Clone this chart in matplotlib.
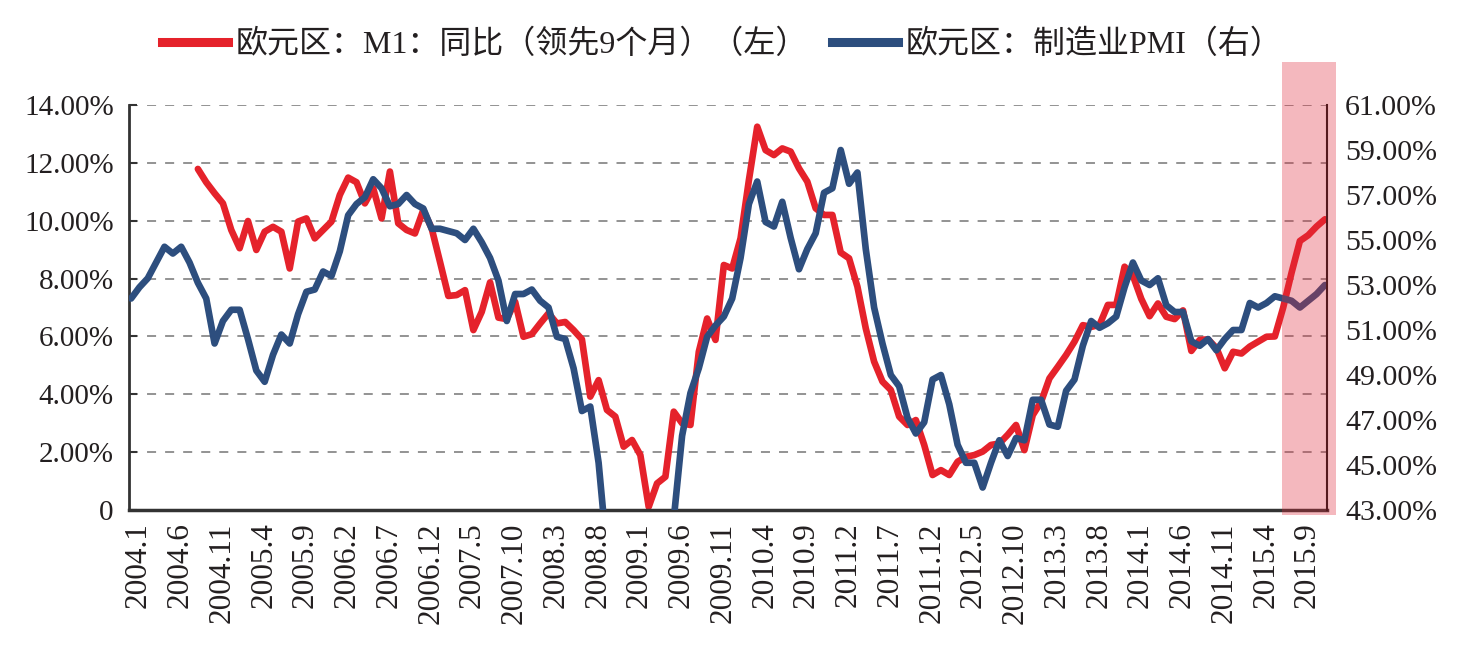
# 欧元区 M1 同比（领先9个月） vs 制造业PMI
import matplotlib
matplotlib.use('Agg')
import matplotlib.pyplot as plt
import matplotlib.transforms as mtransforms
from matplotlib.lines import Line2D
from matplotlib.patches import Rectangle
import numpy as np

plt.rcParams['font.family'] = ['Liberation Serif', 'Noto Sans CJK SC']

# monthly categories 2004.1 .. 2015.12
years = list(range(2004, 2016))
months = [f'{y}.{m}' for y in years for m in range(1, 13)]

# Euro area M1 yoy, led 9 months (left axis, %); starts 2004.9
m1_start = '2004.9'
m1_yoy = [
    11.79, 11.33, 10.95, 10.6, 9.68, 9.05, 9.99, 8.99, 9.62, 9.79,
    9.62, 8.35, 9.97, 10.08, 9.39, 9.68, 9.97, 10.89, 11.49, 11.33,
    10.6, 11.12, 10.08, 11.7, 9.91, 9.68, 9.56, 10.37, 9.74, 8.58,
    7.4, 7.43, 7.6, 6.22, 6.85, 7.87, 6.65, 6.6, 7.2, 5.99,
    6.08, 6.45, 6.8, 6.45, 6.5, 6.22, 5.9, 3.92, 4.49, 3.46,
    3.23, 2.19, 2.42, 1.9, 0.11, 0.92, 1.15, 3.4, 3.0, 2.94,
    5.47, 6.62, 5.88, 8.47, 8.35, 9.39, 11.4, 13.25, 12.44, 12.27,
    12.5, 12.39, 11.81, 11.35, 10.43, 10.2, 10.2, 8.9,
    8.7, 7.72, 6.28, 5.13, 4.44, 4.15, 3.23, 2.94, 3.11, 2.25,
    1.21, 1.38, 1.21, 1.67, 1.84, 1.9, 2.02, 2.25, 2.3, 2.6,
    2.94, 2.07, 3.28, 3.74, 4.55, 4.95, 5.36, 5.82,
    6.39, 6.33, 6.4, 7.09, 7.09, 8.41, 8.1, 7.3, 6.7, 7.14,
    6.68, 6.6, 6.9, 5.5, 5.88, 5.9, 5.6, 4.9, 5.47, 5.41,
    5.65, 5.82, 5.99, 6.0, 7.0, 8.2, 9.3, 9.5, 9.8, 10.05,
]

# Euro area manufacturing PMI (right axis)
pmi = [
    52.4, 52.9, 53.3, 54.0, 54.7, 54.4, 54.7, 54.0, 53.1, 52.4, 50.4, 51.4,
    51.9, 51.9, 50.6, 49.2, 48.7, 49.9, 50.8, 50.4, 51.7, 52.7, 52.8, 53.6,
    53.4, 54.5, 56.1, 56.6, 56.9, 57.7, 57.3, 56.5, 56.6, 57.0, 56.6, 56.4,
    55.5, 55.5, 55.4, 55.3, 55.0, 55.5, 54.9, 54.2, 53.2, 51.4, 52.6, 52.6,
    52.8, 52.3, 52.0, 50.7, 50.6, 49.3, 47.4, 47.6, 45.1, 41.1, 36.2, 33.9,
    34.4, 33.5, 33.9, 36.8, 40.7, 42.6, 46.3, 48.2, 49.3, 50.7, 51.2, 51.6,
    52.4, 54.2, 56.6, 57.6, 55.8, 55.6, 56.7, 55.1, 53.7, 54.6, 55.3, 57.1,
    57.3, 59.0, 57.5, 58.0, 54.6, 52.0, 50.4, 49.0, 48.5, 47.1, 46.4, 46.9,
    48.8, 49.0, 47.7, 45.9, 45.1, 45.1, 44.0, 45.1, 46.1, 45.4, 46.2, 46.1,
    47.9, 47.9, 46.8, 46.7, 48.3, 48.8, 50.3, 51.4, 51.1, 51.3, 51.6, 52.9,
    54.0, 53.2, 53.0, 53.3, 52.1, 51.8, 51.8, 50.5, 50.3, 50.6, 50.1, 50.6,
    51.0, 51.0, 52.2, 52.0, 52.2, 52.5, 52.4, 52.3, 52.0, 52.3, 52.6, 53.0,
]

left_ticks = [0, 2, 4, 6, 8, 10, 12, 14]
right_ticks = [43, 45, 47, 49, 51, 53, 55, 57, 59, 61]
highlight = ('2015.7', '2015.12')

label_red = '欧元区：M1：同比（领先9个月）（左）'
label_blue = '欧元区：制造业PMI（右）'

red = '#E5222B'
blue = '#2D4E7E'
txt = '#231F20'

x = np.arange(len(months))
red_y = np.full(len(months), np.nan)
s = months.index(m1_start)
red_y[s:s + len(m1_yoy)] = m1_yoy

fig = plt.figure(figsize=(14.61, 6.47), dpi=100)
ax = fig.add_axes([0.0883, 0.2117, 0.8200, 0.6260])
ax2 = ax.twinx()

ax.plot(x, red_y, color=red, lw=4.8, solid_joinstyle='round', solid_capstyle='round')
ax2.plot(x, pmi, color=blue, lw=4.8, solid_joinstyle='round', solid_capstyle='round')

ax.set_xlim(-0.25, len(months) - 0.75)
ax.set_ylim(0, 14)
ax2.set_ylim(43, 61)

ax.set_yticks(left_ticks)
ax.set_yticklabels(['0' if v == 0 else f'{v:.2f}%' for v in left_ticks])
ax2.set_yticks(right_ticks)
ax2.set_yticklabels([f'{v:.2f}%' for v in right_ticks])

# labels sit a little right of their month, as in the source chart
xt = x[::5]
ax.set_xticks(xt + 0.9)
ax.set_xticklabels([months[i] for i in xt], rotation=90)

ax.yaxis.grid(True, color='#8A8A8A', lw=1.3, linestyle=(0, (5, 5)))
ax.set_axisbelow(True)

ax.tick_params(axis='y', direction='in', length=6, width=1.5, color='#333333',
               labelsize=21, labelcolor=txt, pad=11)
ax.tick_params(axis='x', length=0, labelsize=22.5, labelcolor=txt, pad=9)
ax2.tick_params(axis='y', length=0, labelsize=21.5, labelcolor=txt, pad=13)

for sp in ['top', 'right']:
    ax.spines[sp].set_visible(False)
ax.spines['left'].set_color('#333333')
ax.spines['left'].set_linewidth(2)
ax.spines['bottom'].set_color('#333333')
ax.spines['bottom'].set_linewidth(2.5)
for sp in ['top', 'left', 'bottom']:
    ax2.spines[sp].set_visible(False)
ax2.spines['right'].set_color('#111111')
ax2.spines['right'].set_linewidth(1.5)

# highlighted recent period
trans = mtransforms.blended_transform_factory(ax2.transData, fig.transFigure)
h0 = months.index(highlight[0]) - 0.2
h1 = months.index(highlight[1]) + 1.3
ax2.add_patch(Rectangle((h0, 0.204), h1 - h0, 0.700, transform=trans,
                        facecolor='#E02A3A', alpha=0.33, edgecolor='none',
                        zorder=10, clip_on=False))

handles = [Line2D([], [], color=red, lw=6.5), Line2D([], [], color=blue, lw=6.5)]
fig.legend(handles, [label_red, label_blue], loc='center',
           bbox_to_anchor=(0.4945, 0.931), ncol=2, frameon=False,
           prop={'family': ['Liberation Serif', 'Noto Sans CJK SC'], 'size': 23},
           labelcolor=txt, handlelength=2.05, handletextpad=0.25, columnspacing=0.75)

fig.savefig('out.png', dpi=100)
